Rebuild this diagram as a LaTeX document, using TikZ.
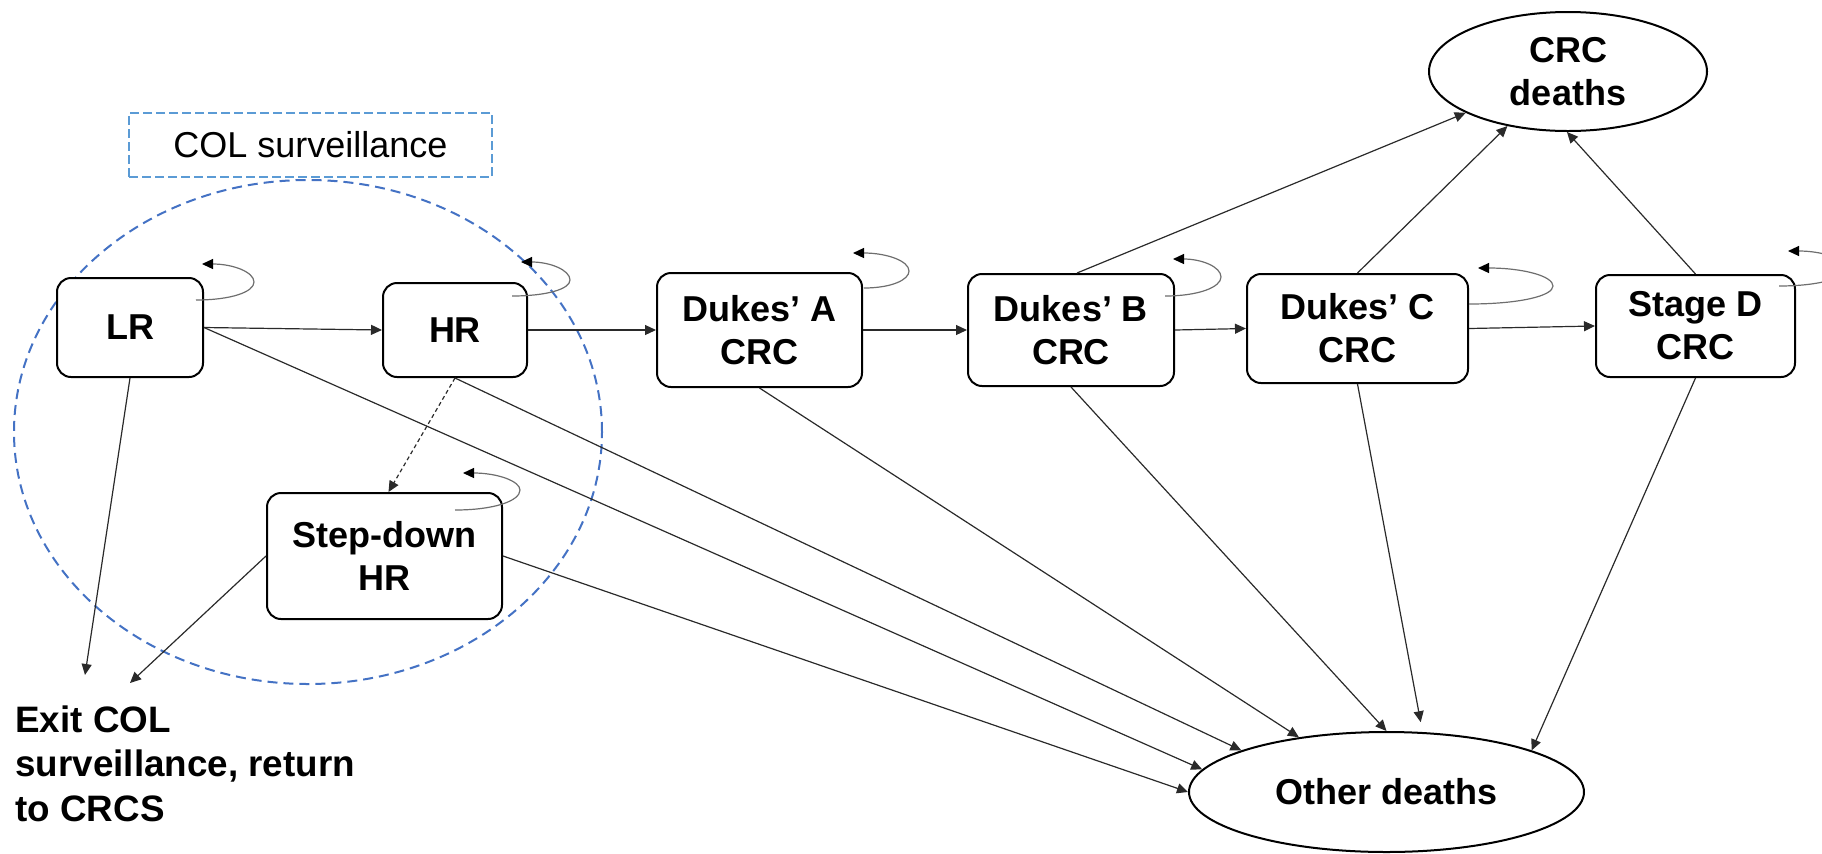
\documentclass[tikz,border=0pt]{standalone}
\usepackage{fontspec}
\setmainfont{Liberation Sans}
\usetikzlibrary{arrows.meta,shapes.geometric,calc}
\definecolor{circblue}{HTML}{4472C4}
\definecolor{boxblue}{HTML}{5B9BD5}
\definecolor{lnk}{HTML}{2A2A2A}
\definecolor{loopgray}{HTML}{6E6E6E}
\begin{document}
\begin{tikzpicture}[x=0.5pt,y=-0.5pt,
  state/.style={draw=black, line width=1pt, rounded corners=7pt, fill=white,
    inner sep=0pt, align=center, font=\bfseries\fontsize{18}{21.5}\selectfont},
  death/.style={ellipse, draw=black, line width=1pt, fill=white, inner sep=0pt,
    align=center, font=\bfseries\fontsize{18}{21.5}\selectfont},
  arr/.style={-{Triangle[length=5.5pt,width=5pt]}, draw=lnk, line width=0.6pt},
  loopline/.style={-{Triangle[length=5.5pt,width=5pt,color=black]}, draw=loopgray, line width=0.6pt},
  survbox/.style={draw=boxblue, line width=0.8pt, dash pattern=on 4.5pt off 2pt,
    inner sep=0pt, font=\fontsize{18}{21.5}\selectfont},
  survcirc/.style={draw=circblue, line width=1pt, dash pattern=on 5pt off 3pt}
]
\useasboundingbox (0,0) rectangle (1822,853);
\clip (0,0) rectangle (1822,853);

% surveillance region
\draw[survcirc] (308,432) ellipse [x radius=147pt, y radius=126pt];
\node[survbox, minimum width=181.5pt, minimum height=32pt] (col) at (310.5,145) {COL surveillance};

% states
\node[state, minimum width=73pt, minimum height=49.5pt] (LR) at (130,327.5) {LR};
\node[state, minimum width=72pt, minimum height=47pt] (HR) at (455,330) {HR};
\node[state, minimum width=102.5pt, minimum height=57pt] (DA) at (759.5,330) {Dukes’ A\\CRC};
\node[state, minimum width=103pt, minimum height=56pt] (DB) at (1071,330) {Dukes’ B\\CRC};
\node[state, minimum width=110.5pt, minimum height=54.5pt] (DC) at (1357.5,328.5) {Dukes’ C\\CRC};
\node[state, minimum width=99.5pt, minimum height=51pt] (SD) at (1695.5,326) {Stage D\\CRC};
\node[state, minimum width=117.5pt, minimum height=63pt] (SDHR) at (384.5,556) {Step-down\\HR};
\node[death, minimum width=139pt, minimum height=59.5pt] (CD) at (1568,71.5) {CRC\\deaths};
\node[death, minimum width=197.5pt, minimum height=60pt] (OD) at (1386.5,792) {Other deaths};
\node[anchor=north west, inner sep=0pt, align=left,
  font=\bfseries\fontsize{18.4}{22.25}\selectfont] (exit) at (15,705)
  {Exit COL\\surveillance, return\\to CRCS};
\coordinate (xa) at (85,675);
\coordinate (xb) at (130,683);

% progression
\draw[arr] (LR.east) -- (HR.west);
\draw[arr] (HR.east) -- (DA.west);
\draw[arr] (DA.east) -- (DB.west);
\draw[arr] (DB.east) -- (DC.west);
\draw[arr] (DC.east) -- (SD.west);
\draw[arr] (LR.south) -- (xa);
\draw[arr] (SDHR.west) -- (xb);
\draw[arr, dash pattern=on 2pt off 1.5pt] (HR.south) -- ($(SDHR.north)+(4,0)$);

% other deaths
\draw[arr] (LR.east) -- (OD.173);
\draw[arr] (HR.south) -- (OD.164);
\draw[arr] (SDHR.east) -- (OD.west);
\draw[arr] (DA.south) -- (OD.148);
\draw[arr] (DB.south) -- (OD.north);
\draw[arr, shorten >=5pt] (DC.south) -- (OD.59);
\draw[arr] (SD.south) -- (OD.16);

% CRC deaths
\draw[arr] ($(DB.north)+(6,0)$) -- (CD.202);
\draw[arr] (DC.north) -- (CD.222);
\draw[arr] (SD.north) -- (CD.269);

% self loops
\begin{scope}[shift={(LR.north east)}]
\draw[loopline] (-8,23) .. controls (27,23) and (50,15) .. (50,5) .. controls (50,-5) and (29,-13) .. (-2,-13);
\end{scope}
\begin{scope}[shift={(HR.north east)}]
\draw[loopline] (-16,14) .. controls (19,14) and (42,7) .. (42,-2) .. controls (42,-12) and (22,-20) .. (-7,-20);
\end{scope}
\begin{scope}[shift={(DA.north east)}]
\draw[loopline] (1,16) .. controls (28,16) and (46,8) .. (46,-1) .. controls (46,-11) and (24,-19) .. (-10,-19);
\end{scope}
\begin{scope}[shift={(DB.north east)}]
\draw[loopline] (-10,23) .. controls (24,23) and (46,14) .. (46,4) .. controls (46,-6) and (27,-14) .. (-2,-14);
\end{scope}
\begin{scope}[shift={(DC.north east)}]
\draw[loopline] (0,31) .. controls (50,31) and (84,23) .. (84,13) .. controls (84,3) and (54,-5) .. (9,-5);
\end{scope}
\begin{scope}[shift={(SD.north east)}]
\draw[loopline] (-17,12) .. controls (23,12) and (50,4) .. (50,-5) .. controls (50,-15) and (27,-23) .. (-8,-23);
\end{scope}
\begin{scope}[shift={(SDHR.north east)}]
\draw[loopline] (-48,18) .. controls (-9,18) and (17,9) .. (17,-2) .. controls (17,-11) and (-6,-19) .. (-40,-19);
\end{scope}
\end{tikzpicture}
\end{document}
